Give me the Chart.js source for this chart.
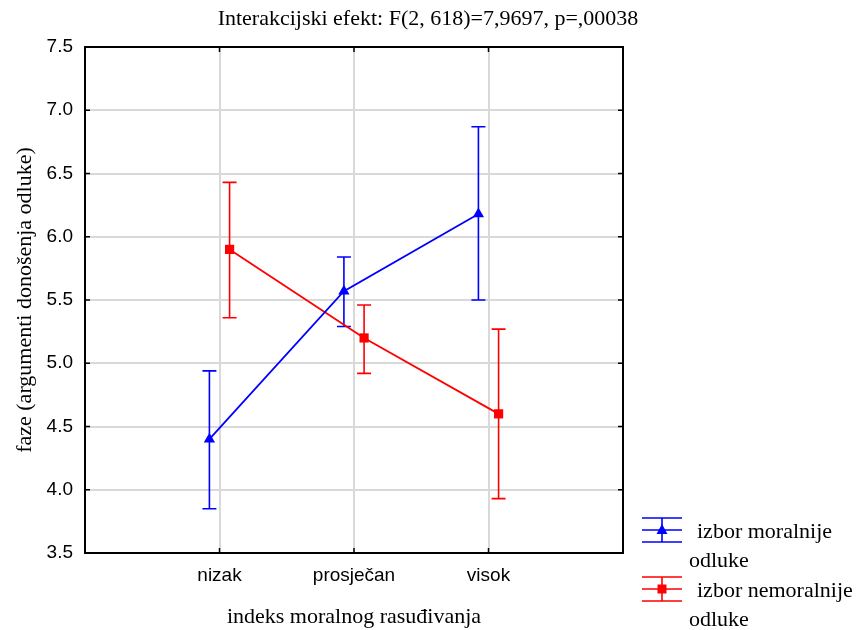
<!DOCTYPE html>
<html lang="hr">
<head>
<meta charset="UTF-8">
<script src="https://cdn.jsdelivr.net/npm/chart.js"></script>
<style>
  html, body { margin: 0; padding: 0; background: #fff; }
  #wrap { width: 856px; height: 630px; }
</style>
</head>
<body>
<div id="wrap"><canvas id="c" width="856" height="630"></canvas></div>
<script>
const categories = ['nizak', 'prosječan', 'visok'];
const yTicks = [3.5, 4.0, 4.5, 5.0, 5.5, 6.0, 6.5, 7.0, 7.5];

// izbor moralnije odluke
const moralMean = [4.40, 5.57, 6.18];
const moralLow = [3.85, 5.29, 5.50];
const moralHigh = [4.94, 5.84, 6.87];

// izbor nemoralnije odluke
const nemoralMean = [5.90, 5.20, 4.60];
const nemoralLow = [5.36, 4.92, 3.93];
const nemoralHigh = [6.43, 5.46, 5.27];

const seriesNames = ['izbor moralnije odluke', 'izbor nemoralnije odluke'];

const BLUE = '#0000ff', RED = '#ff0000';
const SERIF = "'Liberation Serif', 'Times New Roman', serif";
const SANS = "'Liberation Sans', Arial, sans-serif";
const dodge = 0.075;

function pts(means, shift) {
  return means.map((v, i) => ({ x: i + 1 + shift, y: v }));
}

const errorBars = {
  id: 'errorBars',
  beforeDatasetsDraw(chart) {
    const ctx = chart.ctx, ys = chart.scales.y;
    const bounds = [[moralLow, moralHigh], [nemoralLow, nemoralHigh]];
    chart.data.datasets.forEach((ds, d) => {
      const meta = chart.getDatasetMeta(d);
      ctx.save();
      ctx.strokeStyle = ds.borderColor;
      ctx.lineWidth = 1.6;
      meta.data.forEach((el, i) => {
        const y1 = ys.getPixelForValue(bounds[d][0][i]);
        const y2 = ys.getPixelForValue(bounds[d][1][i]);
        ctx.beginPath();
        ctx.moveTo(el.x, y1); ctx.lineTo(el.x, y2);
        ctx.moveTo(el.x - 7, y1); ctx.lineTo(el.x + 7, y1);
        ctx.moveTo(el.x - 7, y2); ctx.lineTo(el.x + 7, y2);
        ctx.stroke();
      });
      ctx.restore();
    });
  }
};

const frame = {
  id: 'frame',
  afterDraw(chart) {
    const ctx = chart.ctx, a = chart.chartArea;
    const xs = chart.scales.x, ys = chart.scales.y;
    ctx.save();
    ctx.strokeStyle = '#000';
    ctx.lineWidth = 2;
    ctx.strokeRect(a.left, a.top, a.right - a.left, a.bottom - a.top);
    ctx.lineWidth = 1.5;
    ctx.beginPath();
    yTicks.forEach(v => {
      const y = ys.getPixelForValue(v);
      ctx.moveTo(a.left, y); ctx.lineTo(a.left + 5, y);
      ctx.moveTo(a.right, y); ctx.lineTo(a.right - 5, y);
    });
    [1, 2, 3].forEach(v => {
      const x = xs.getPixelForValue(v);
      ctx.moveTo(x, a.bottom); ctx.lineTo(x, a.bottom - 5);
      ctx.moveTo(x, a.top); ctx.lineTo(x, a.top + 5);
    });
    ctx.stroke();

    // legenda
    const items = [
      { color: BLUE, style: 'tri', y: 530, lines: ['izbor moralnije', 'odluke'] },
      { color: RED, style: 'sq', y: 589, lines: ['izbor nemoralnije', 'odluke'] }
    ];
    items.forEach(it => {
      const cx = 662;
      ctx.strokeStyle = it.color;
      ctx.fillStyle = it.color;
      ctx.lineWidth = 1.6;
      ctx.beginPath();
      [-12, 0, 12].forEach(dy => { ctx.moveTo(642, it.y + dy); ctx.lineTo(682, it.y + dy); });
      ctx.moveTo(cx, it.y - 12); ctx.lineTo(cx, it.y + 12);
      ctx.stroke();
      ctx.beginPath();
      if (it.style === 'tri') {
        ctx.moveTo(cx, it.y - 6); ctx.lineTo(cx + 5.5, it.y + 4); ctx.lineTo(cx - 5.5, it.y + 4);
        ctx.closePath();
      } else {
        ctx.rect(cx - 4.5, it.y - 4.5, 9, 9);
      }
      ctx.fill();
      ctx.fillStyle = '#000';
      ctx.font = '22px ' + SERIF;
      ctx.textBaseline = 'alphabetic';
      ctx.fillText(it.lines[0], 697, it.y + 8);
      ctx.fillText(it.lines[1], 689, it.y + 37);
    });
    ctx.restore();
  }
};

new Chart(document.getElementById('c'), {
  type: 'line',
  data: {
    datasets: [
      {
        label: seriesNames[0],
        data: pts(moralMean, -dodge),
        borderColor: BLUE,
        backgroundColor: BLUE,
        borderWidth: 1.8,
        pointStyle: 'triangle',
        pointRadius: 6.5,
        pointBorderWidth: 0,
        tension: 0
      },
      {
        label: seriesNames[1],
        data: pts(nemoralMean, dodge),
        borderColor: RED,
        backgroundColor: RED,
        borderWidth: 1.8,
        pointStyle: 'rect',
        pointRadius: 6.5,
        pointBorderWidth: 0,
        tension: 0
      }
    ]
  },
  options: {
    responsive: false,
    animation: false,
    layout: { padding: 0 },
    plugins: {
      legend: { display: false },
      tooltip: { enabled: false },
      title: {
        display: true,
        text: 'Interakcijski efekt: F(2, 618)=7,9697, p=,00038',
        color: '#000',
        font: { family: SERIF, size: 22, weight: 'normal' },
        padding: { top: 6, bottom: 14.6 }
      }
    },
    scales: {
      x: {
        type: 'linear',
        min: 0,
        max: 4,
        afterBuildTicks: s => { s.ticks = [1, 2, 3].map(v => ({ value: v })); },
        afterFit: s => { s.height = 77; },
        ticks: {
          callback: v => categories[v - 1],
          color: '#000',
          font: { family: SANS, size: 19 },
          padding: 11,
          maxRotation: 0
        },
        grid: { color: '#d9d9d9', lineWidth: 2, drawTicks: false },
        border: { display: false },
        title: {
          display: true,
          text: 'indeks moralnog rasuđivanja',
          color: '#000',
          font: { family: SERIF, size: 22 },
          padding: { top: 0, bottom: 0 }
        }
      },
      y: {
        min: 3.5,
        max: 7.5,
        afterBuildTicks: s => { s.ticks = yTicks.map(v => ({ value: v })); },
        afterFit: s => { s.width = 85; },
        ticks: {
          callback: v => v.toFixed(1),
          color: '#000',
          font: { family: SANS, size: 19 },
          padding: 12
        },
        grid: { color: '#d9d9d9', lineWidth: 2, drawTicks: false },
        border: { display: false },
        title: {
          display: true,
          text: 'faze (argumenti donošenja odluke)',
          color: '#000',
          font: { family: SERIF, size: 22 },
          padding: { top: 12, bottom: 0 }
        }
      },
      // prazan prostor desno za legendu
      side: {
        axis: 'y',
        position: 'right',
        min: 0,
        max: 1,
        afterFit: s => { s.width = 233; },
        ticks: { display: false },
        grid: { display: false, drawTicks: false },
        border: { display: false }
      }
    }
  },
  plugins: [errorBars, frame]
});
</script>
</body>
</html>
